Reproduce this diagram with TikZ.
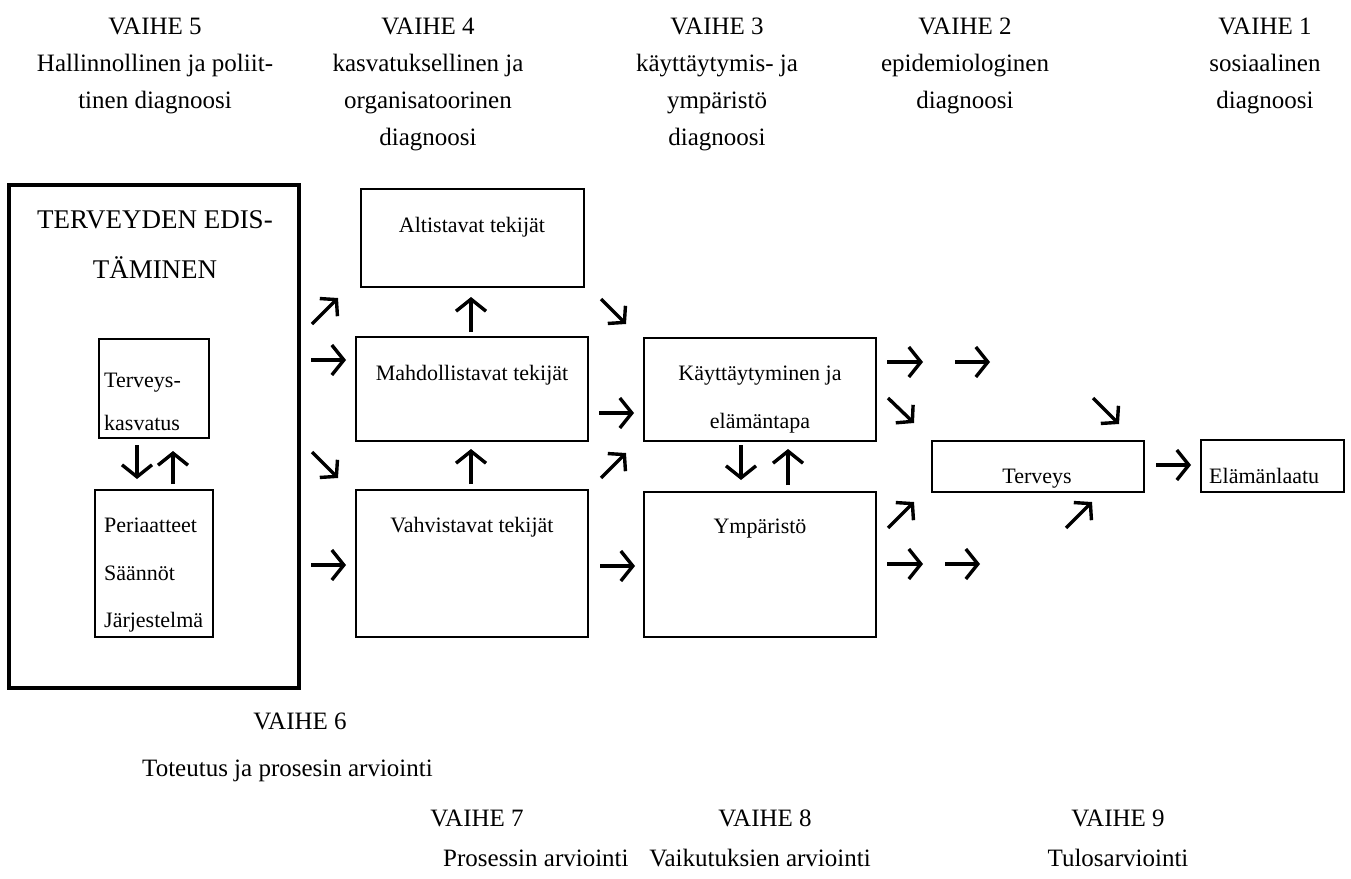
\documentclass[tikz,border=0pt]{standalone}
\usepackage{fontspec}
\setmainfont{Liberation Serif}
\usetikzlibrary{arrows.meta}
\begin{document}
\begin{tikzpicture}[x=1pt,y=-1pt,
  hd/.style={font=\fontsize{25}{30}\selectfont, anchor=base, inner sep=0pt},
  bt/.style={font=\fontsize{22}{26}\selectfont, anchor=base, inner sep=0pt},
  btl/.style={bt, anchor=base west},
  box/.style={draw, line width=2.2pt, inner sep=0pt},
  bigbox/.style={draw, line width=4pt, inner sep=0pt},
  arr/.style={line width=3.4pt, -{Straight Barb[length=12pt,width=30pt]}},
  darr/.style={line width=3.4pt, -{Straight Barb[length=11pt,width=25pt]}}]
\useasboundingbox (0,0) rectangle (1351,878);

% headers
\node[hd] (h5a) at (155,34) {VAIHE 5};
\node[hd] (h5b) at (155,71) {Hallinnollinen ja poliit-};
\node[hd] (h5c) at (155,108) {tinen diagnoosi};
\node[hd] (h4a) at (428,34) {VAIHE 4};
\node[hd] (h4b) at (428,71) {kasvatuksellinen ja};
\node[hd] (h4c) at (428,108) {organisatoorinen};
\node[hd] (h4d) at (428,145) {diagnoosi};
\node[hd] (h3a) at (717,34) {VAIHE 3};
\node[hd] (h3b) at (717,71) {käyttäytymis- ja};
\node[hd] (h3c) at (717,108) {ympäristö};
\node[hd] (h3d) at (717,145) {diagnoosi};
\node[hd] (h2a) at (965,34) {VAIHE 2};
\node[hd] (h2b) at (965,71) {epidemiologinen};
\node[hd] (h2c) at (965,108) {diagnoosi};
\node[hd] (h1a) at (1265,34) {VAIHE 1};
\node[hd] (h1b) at (1265,71) {sosiaalinen};
\node[hd] (h1c) at (1265,108) {diagnoosi};

% boxes
\node[bigbox, minimum width=290pt, minimum height=503pt] (big) at (154,436.5) {};
\node[box, minimum width=110pt, minimum height=99pt] (tk) at (154,388.5) {};
\node[box, minimum width=118pt, minimum height=147pt] (per) at (154,563.5) {};
\node[box, minimum width=223pt, minimum height=98pt] (alt) at (472.5,238) {};
\node[box, minimum width=232pt, minimum height=104pt] (mahd) at (472,389) {};
\node[box, minimum width=232pt, minimum height=147pt] (vahv) at (472,563.5) {};
\node[box, minimum width=232pt, minimum height=103pt] (kay) at (760,389.5) {};
\node[box, minimum width=232pt, minimum height=145pt] (ymp) at (760,564.5) {};
\node[box, minimum width=212pt, minimum height=51pt] (terv) at (1038,466.5) {};
\node[box, minimum width=143pt, minimum height=52pt] (ela) at (1272.5,466) {};

% box texts
\node[hd, font=\fontsize{27}{30}\selectfont] (t1) at (155,228) {TERVEYDEN EDIS-};
\node[hd, font=\fontsize{27}{30}\selectfont] (t2) at (155,278) {TÄMINEN};
\node[btl] (t3) at (104,387) {Terveys-};
\node[btl] (t4) at (104,430) {kasvatus};
\node[btl] (t5) at (104,532) {Periaatteet};
\node[btl] (t6) at (104,580) {Säännöt};
\node[btl] (t7) at (104,627) {Järjestelmä};
\node[bt] (t8) at (472,232) {Altistavat tekijät};
\node[bt] (t9) at (472,380) {Mahdollistavat tekijät};
\node[bt] (t10) at (472,532) {Vahvistavat tekijät};
\node[bt] (t11) at (760,380) {Käyttäytyminen ja};
\node[bt] (t12) at (760,428) {elämäntapa};
\node[bt] (t13) at (760,533) {Ympäristö};
\node[bt] (t14) at (1037,483) {Terveys};
\node[btl] (t15) at (1209,483) {Elämänlaatu};

% bottom texts
\node[hd] (b6a) at (300,729) {VAIHE 6};
\node[hd, anchor=base west] (b6b) at (142,776) {Toteutus ja prosesin arviointi};
\node[hd] (b7a) at (477,826) {VAIHE 7};
\node[hd, anchor=base west] (b7b) at (443,866) {Prosessin arviointi};
\node[hd] (b8a) at (765,826) {VAIHE 8};
\node[hd] (b8b) at (760,866) {Vaikutuksien arviointi};
\node[hd] (b9a) at (1118,826) {VAIHE 9};
\node[hd] (b9b) at (1118,866) {Tulosarviointi};

% vertical arrows
\draw[arr] (137,445) -- (137,479);
\draw[arr] (173,484) -- (173,451);
\draw[arr] (471,332) -- (471,297);
\draw[arr] (471,484) -- (471,449);
\draw[arr] (741,445) -- (741,480);
\draw[arr] (788,485) -- (788,449);

% horizontal arrows
\draw[arr] (311,360) -- (346,360);
\draw[arr] (311,565) -- (346,565);
\draw[arr] (599,413) -- (634,413);
\draw[arr] (600,566) -- (635,566);
\draw[arr] (887,362) -- (923,362);
\draw[arr] (955,362) -- (990,362);
\draw[arr] (887,564) -- (923,564);
\draw[arr] (945,564) -- (980,564);
\draw[arr] (1156,465) -- (1191,465);

% diagonal arrows
\draw[darr] (312,324) -- (338,298);
\draw[darr] (601,478) -- (626,453);
\draw[darr] (888,528) -- (914,502);
\draw[darr] (1066,528) -- (1092,502);
\draw[darr] (601,299) -- (626,324);
\draw[darr] (312,452) -- (338,478);
\draw[darr] (888,398) -- (914,423);
\draw[darr] (1093,398) -- (1119,424);
\end{tikzpicture}
\end{document}
